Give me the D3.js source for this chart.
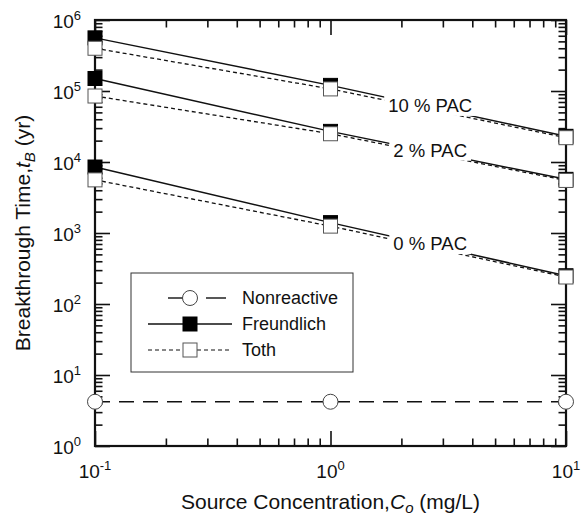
<!DOCTYPE html>
<html><head><meta charset="utf-8">
<script src="https://cdn.jsdelivr.net/npm/d3@7"></script>
<style>body{margin:0;background:#fff}svg{display:block}text{font-family:"Liberation Sans",Arial,Helvetica,sans-serif;fill:#111}</style>
</head><body>
<svg id="c" width="581" height="520"></svg>
<script>
// ---- data ----
const concentrations = [0.1, 1, 10];
const nonreactive = [4.2, 4.2, 4.2];
const freundlich10 = [5.6e5, 1.2e5, 2.3e4];
const toth10 = [4.0e5, 1.07e5, 2.2e4];
const freundlich2 = [1.5e5, 2.7e4, 5.7e3];
const toth2 = [8.5e4, 2.5e4, 5.5e3];
const freundlich0 = [8.5e3, 1.4e3, 2.5e2];
const toth0 = [5.6e3, 1.25e3, 2.4e2];
const pacLabels = ["10 % PAC", "2 % PAC", "0 % PAC"];
const labelConc = 2.65;
const xTickExps = [-1, 0, 1];
const yTickExps = [0, 1, 2, 3, 4, 5, 6];
const legendNames = ["Nonreactive", "Freundlich", "Toth"];

const svg = d3.select("#c");
const L = 95, R = 566, T = 20, B = 446;
const x = d3.scaleLog().domain([0.1, 10]).range([L, R]);
const y = d3.scaleLog().domain([1, 1e6]).range([B, T]);

const minorX = [];
for (let e = -1; e < 1; e++) for (let m = 2; m <= 9; m++) minorX.push(m * Math.pow(10, e));
const minorY = [];
for (let e = 0; e < 6; e++) for (let m = 2; m <= 9; m++) minorY.push(m * Math.pow(10, e));
const majorX = xTickExps.map(e => Math.pow(10, e));
const majorY = yTickExps.map(e => Math.pow(10, e));

function styleAxis(g) {
  g.select(".domain").remove();
  g.selectAll(".tick line").attr("stroke", "#111").attr("stroke-width", 1.6);
  g.selectAll(".tick text").remove();
}
const mn = 7.5, mj = 15;
svg.append("g").attr("transform", `translate(0,${B})`).call(d3.axisBottom(x).tickValues(minorX).tickSize(-mn)).call(styleAxis);
svg.append("g").attr("transform", `translate(0,${B})`).call(d3.axisBottom(x).tickValues(majorX).tickSize(-mj)).call(styleAxis);
svg.append("g").attr("transform", `translate(0,${T})`).call(d3.axisTop(x).tickValues(minorX).tickSize(-mn)).call(styleAxis);
svg.append("g").attr("transform", `translate(0,${T})`).call(d3.axisTop(x).tickValues(majorX).tickSize(-mj)).call(styleAxis);
svg.append("g").attr("transform", `translate(${L},0)`).call(d3.axisLeft(y).tickValues(minorY).tickSize(-mn)).call(styleAxis);
svg.append("g").attr("transform", `translate(${L},0)`).call(d3.axisLeft(y).tickValues(majorY).tickSize(-mj)).call(styleAxis);
svg.append("g").attr("transform", `translate(${R},0)`).call(d3.axisRight(y).tickValues(minorY).tickSize(-mn)).call(styleAxis);
svg.append("g").attr("transform", `translate(${R},0)`).call(d3.axisRight(y).tickValues(majorY).tickSize(-mj)).call(styleAxis);

svg.append("rect").attr("x", L).attr("y", T).attr("width", R - L).attr("height", B - T)
  .attr("fill", "none").attr("stroke", "#111").attr("stroke-width", 2.2);

// tick labels
xTickExps.forEach(e => {
  const t = svg.append("text").attr("x", x(Math.pow(10, e))).attr("y", B + 32)
    .attr("text-anchor", "middle").style("font-size", "19px");
  t.append("tspan").text("10");
  t.append("tspan").attr("dy", -8).style("font-size", "13px").text(String(e));
});
yTickExps.forEach(e => {
  const t = svg.append("text").attr("x", 81).attr("y", y(Math.pow(10, e)) + 8)
    .attr("text-anchor", "end").style("font-size", "19px");
  t.append("tspan").text("10");
  t.append("tspan").attr("dy", -8).style("font-size", "13px").text(String(e));
});

// axis titles
const xt = svg.append("text").attr("x", (L + R) / 2).attr("y", 509).attr("text-anchor", "middle").style("font-size", "21px");
xt.append("tspan").text("Source Concentration,");
xt.append("tspan").style("font-style", "italic").text("C");
xt.append("tspan").attr("dy", 4).style("font-size", "15px").style("font-style", "italic").text("o");
xt.append("tspan").attr("dy", -4).text(" (mg/L)");

const yt = svg.append("text").attr("transform", `translate(30,${(T + B) / 2}) rotate(-90)`).attr("text-anchor", "middle").style("font-size", "21px");
yt.append("tspan").text("Breakthrough Time,");
yt.append("tspan").style("font-style", "italic").text("t");
yt.append("tspan").attr("dy", 5).style("font-size", "15px").style("font-style", "italic").text("B");
yt.append("tspan").attr("dy", -5).text(" (yr)");

// lines
const line = d3.line().x((d, i) => x(concentrations[i])).y(d => y(d));
const groups = [
  { f: freundlich10, t: toth10, label: pacLabels[0] },
  { f: freundlich2, t: toth2, label: pacLabels[1] },
  { f: freundlich0, t: toth0, label: pacLabels[2] },
];
const gl = svg.append("g");
gl.append("path").attr("d", line(nonreactive)).attr("fill", "none").attr("stroke", "#111")
  .attr("stroke-width", 1.4).attr("stroke-dasharray", "15,9");
groups.forEach(gp => {
  gl.append("path").attr("d", line(gp.f)).attr("fill", "none").attr("stroke", "#111").attr("stroke-width", 1.5);
  gl.append("path").attr("d", line(gp.t)).attr("fill", "none").attr("stroke", "#111").attr("stroke-width", 1.3).attr("stroke-dasharray", "4,3");
});

function interpLog(arr, c) {
  const lc = Math.log10(c);
  const lx = concentrations.map(Math.log10);
  let i = lc < lx[1] ? 0 : 1;
  const tt = (lc - lx[i]) / (lx[i + 1] - lx[i]);
  return Math.pow(10, Math.log10(arr[i]) + tt * (Math.log10(arr[i + 1]) - Math.log10(arr[i])));
}
groups.forEach(gp => {
  const cx = x(labelConc), cy = y(interpLog(gp.f, labelConc)) - 2;
  const t = svg.append("text").attr("x", cx).attr("y", cy + 7).attr("text-anchor", "middle")
    .style("font-size", "18.5px").text(gp.label);
  const bb = t.node().getBBox();
  svg.insert("rect", () => t.node()).attr("x", bb.x - 4).attr("y", cy - 10).attr("width", bb.width + 8).attr("height", 21).attr("fill", "#fff");
});

// markers
const S = 14;
function square(g, cx, cy, filled) {
  g.append("rect").attr("x", cx - S / 2).attr("y", cy - S / 2).attr("width", S).attr("height", S)
    .attr("fill", filled ? "#000" : "#fff").attr("stroke", filled ? "#000" : "#555").attr("stroke-width", 1);
}
const gm = svg.append("g");
groups.forEach(gp => {
  gp.f.forEach((v, i) => square(gm, x(concentrations[i]), y(v), true));
  gp.t.forEach((v, i) => square(gm, x(concentrations[i]), y(v), false));
});
nonreactive.forEach((v, i) => {
  gm.append("circle").attr("cx", x(concentrations[i])).attr("cy", y(v)).attr("r", 7.5)
    .attr("fill", "#fff").attr("stroke", "#444").attr("stroke-width", 1);
});

// legend
const lg = svg.append("g");
lg.append("rect").attr("x", 131).attr("y", 273).attr("width", 222).attr("height", 99)
  .attr("fill", "#fff").attr("stroke", "#333").attr("stroke-width", 1);
const rows = [298, 324, 350];
lg.append("line").attr("x1", 168).attr("x2", 190).attr("y1", rows[0]).attr("y2", rows[0]).attr("stroke", "#111").attr("stroke-width", 1.4);
lg.append("line").attr("x1", 206).attr("x2", 226).attr("y1", rows[0]).attr("y2", rows[0]).attr("stroke", "#111").attr("stroke-width", 1.4);
lg.append("circle").attr("cx", 190).attr("cy", rows[0]).attr("r", 7.5).attr("fill", "#fff").attr("stroke", "#444");
lg.append("line").attr("x1", 148).attr("x2", 232).attr("y1", rows[1]).attr("y2", rows[1]).attr("stroke", "#111").attr("stroke-width", 1.5);
square(lg, 190, rows[1], true);
lg.append("line").attr("x1", 148).attr("x2", 232).attr("y1", rows[2]).attr("y2", rows[2]).attr("stroke", "#111").attr("stroke-width", 1.2).attr("stroke-dasharray", "4,3");
square(lg, 190, rows[2], false);
legendNames.forEach((n, i) => {
  lg.append("text").attr("x", 242).attr("y", rows[i] + 6).style("font-size", "18px").text(n);
});
</script>
</body></html>
